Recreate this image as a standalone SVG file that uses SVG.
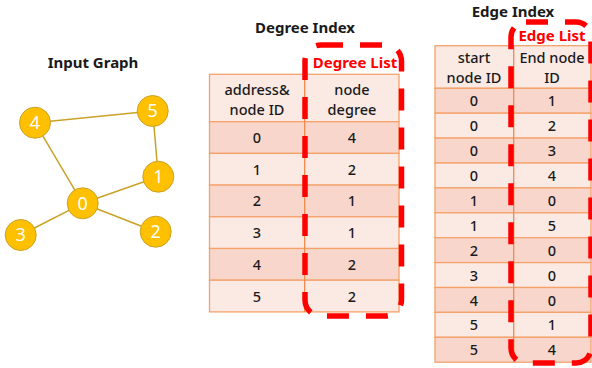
<svg xmlns="http://www.w3.org/2000/svg" width="592" height="368" viewBox="0 0 592 368">
<style>
.title{font-family:"Noto Sans","Open Sans",sans-serif;font-weight:bold;font-size:15px;fill:#1a1a1a;text-anchor:middle}
.red{font-family:"Noto Sans","Open Sans",sans-serif;font-weight:bold;font-size:15px;fill:#ff0000;text-anchor:middle}
.cell{font-family:"Noto Sans","Open Sans",sans-serif;font-size:14.5px;fill:#1a1a1a;text-anchor:middle;font-weight:500}
.hd{fill:#fbe9e4;stroke:#f4a26b;stroke-width:1.3}
.dk{fill:#f8d6cc;stroke:#f4a26b;stroke-width:1.3}
.lt{fill:#fbe9e4;stroke:#f4a26b;stroke-width:1.3}
.div{stroke:#f08a4b;stroke-width:1.3}
.dash{fill:none;stroke:#ff0000;stroke-width:5.5;stroke-dasharray:22 17}
.node circle{fill:#ffc000;stroke:#c9a227;stroke-width:1}
.node text{font-family:"Noto Sans","Open Sans",sans-serif;font-size:18px;fill:#ffffff;text-anchor:middle}
.edge{stroke:#c9a227;stroke-width:1.5}
</style>
<text class="title" x="93" y="68">Input Graph</text>
<g id="connectors">
<line class="edge" x1="35" y1="122.7" x2="152.7" y2="111"/>
<line class="edge" x1="152.7" y1="111" x2="158.3" y2="176.7"/>
<line class="edge" x1="35" y1="122.7" x2="82.7" y2="203.3"/>
<line class="edge" x1="82.7" y1="203.3" x2="158.3" y2="176.7"/>
<line class="edge" x1="82.7" y1="203.3" x2="20.7" y2="235"/>
<line class="edge" x1="82.7" y1="203.3" x2="155.7" y2="231.7"/>
</g>
<g id="n4" class="node"><circle cx="35" cy="122.7" r="15.5"/><text x="35" y="129">4</text></g>
<g id="n5" class="node"><circle cx="152.7" cy="111" r="15.5"/><text x="152.7" y="117.3">5</text></g>
<g id="n1" class="node"><circle cx="158.3" cy="176.7" r="15.5"/><text x="158.3" y="183">1</text></g>
<g id="n0" class="node"><circle cx="82.7" cy="203.3" r="15.5"/><text x="82.7" y="209.6">0</text></g>
<g id="n3" class="node"><circle cx="20.7" cy="235" r="15.5"/><text x="20.7" y="241.3">3</text></g>
<g id="n2" class="node"><circle cx="155.7" cy="231.7" r="15.5"/><text x="155.7" y="238">2</text></g>

<g id="degree-index">
<text class="title" x="305" y="33">Degree Index</text>
<rect class="hd" x="209.5" y="74.3" width="189.5" height="47.4"/>
<rect class="dk" x="209.5" y="121.7" width="189.5" height="31.7"/>
<rect class="lt" x="209.5" y="153.4" width="189.5" height="31.7"/>
<rect class="dk" x="209.5" y="185.1" width="189.5" height="31.7"/>
<rect class="lt" x="209.5" y="216.8" width="189.5" height="31.7"/>
<rect class="dk" x="209.5" y="248.5" width="189.5" height="31.7"/>
<rect class="lt" x="209.5" y="280.2" width="189.5" height="31.7"/>
<line class="div" x1="304.7" y1="74.3" x2="304.7" y2="311.9"/>
<text class="cell" x="257" y="94.5">address&amp;</text>
<text class="cell" x="257" y="114.5">node ID</text>
<text class="cell" x="352" y="94.5">node</text>
<text class="cell" x="352" y="114.5">degree</text>
<text class="cell" x="257" y="143">0</text><text class="cell" x="352" y="143">4</text>
<text class="cell" x="257" y="174.7">1</text><text class="cell" x="352" y="174.7">2</text>
<text class="cell" x="257" y="206.4">2</text><text class="cell" x="352" y="206.4">1</text>
<text class="cell" x="257" y="238.1">3</text><text class="cell" x="352" y="238.1">1</text>
<text class="cell" x="257" y="269.8">4</text><text class="cell" x="352" y="269.8">2</text>
<text class="cell" x="257" y="301.5">5</text><text class="cell" x="352" y="301.5">2</text>
</g>
<g id="degree-list">
<rect class="dash" x="305" y="45" width="96.5" height="271" rx="16"/>
<text class="red" x="355" y="68">Degree List</text>
</g>

<g id="edge-index">
<text class="title" x="513" y="17">Edge Index</text>
<rect class="hd" x="435" y="45.7" width="156" height="42.6"/>
<rect class="dk" x="435" y="88.3" width="156" height="24.9"/>
<rect class="lt" x="435" y="113.2" width="156" height="24.9"/>
<rect class="dk" x="435" y="138.1" width="156" height="24.9"/>
<rect class="lt" x="435" y="163" width="156" height="24.9"/>
<rect class="dk" x="435" y="187.9" width="156" height="24.9"/>
<rect class="lt" x="435" y="212.8" width="156" height="24.9"/>
<rect class="dk" x="435" y="237.7" width="156" height="24.9"/>
<rect class="lt" x="435" y="262.6" width="156" height="24.9"/>
<rect class="dk" x="435" y="287.5" width="156" height="24.9"/>
<rect class="lt" x="435" y="312.4" width="156" height="24.9"/>
<rect class="dk" x="435" y="337.3" width="156" height="24.9"/>
<line class="div" x1="513.7" y1="45.7" x2="513.7" y2="362.2"/>
<text class="cell" x="474" y="63">start</text>
<text class="cell" x="474" y="82.5">node ID</text>
<text class="cell" x="552" y="63">End node</text>
<text class="cell" x="552" y="82.5">ID</text>
<text class="cell" x="474" y="106.3">0</text><text class="cell" x="552" y="106.3">1</text>
<text class="cell" x="474" y="131.2">0</text><text class="cell" x="552" y="131.2">2</text>
<text class="cell" x="474" y="156.1">0</text><text class="cell" x="552" y="156.1">3</text>
<text class="cell" x="474" y="181">0</text><text class="cell" x="552" y="181">4</text>
<text class="cell" x="474" y="205.9">1</text><text class="cell" x="552" y="205.9">0</text>
<text class="cell" x="474" y="230.8">1</text><text class="cell" x="552" y="230.8">5</text>
<text class="cell" x="474" y="255.7">2</text><text class="cell" x="552" y="255.7">0</text>
<text class="cell" x="474" y="280.6">3</text><text class="cell" x="552" y="280.6">0</text>
<text class="cell" x="474" y="305.5">4</text><text class="cell" x="552" y="305.5">0</text>
<text class="cell" x="474" y="330.4">5</text><text class="cell" x="552" y="330.4">1</text>
<text class="cell" x="474" y="355.3">5</text><text class="cell" x="552" y="355.3">4</text>
</g>
<g id="edge-list">
<rect class="dash" x="511" y="22" width="80" height="341" rx="15"/>
<text class="red" x="552" y="41">Edge List</text>
</g>
</svg>
